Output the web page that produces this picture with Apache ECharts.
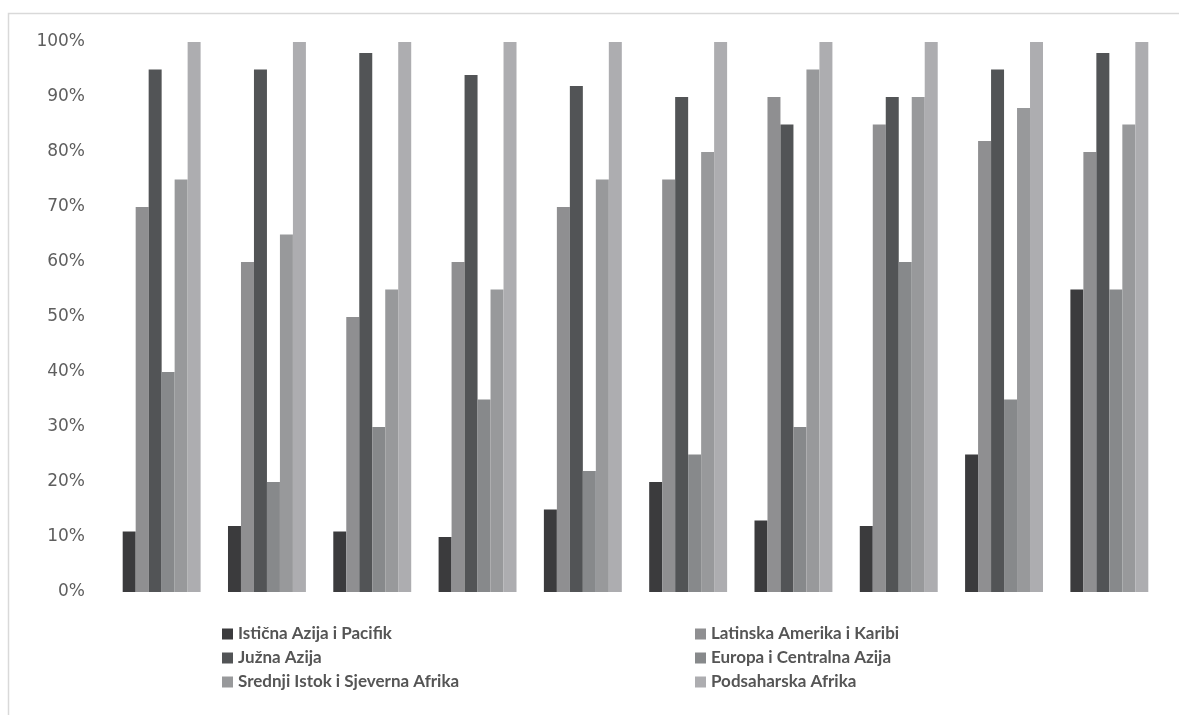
<!DOCTYPE html>
<html>
<head>
<meta charset="utf-8">
<script src="https://cdn.jsdelivr.net/npm/echarts@6/dist/echarts.min.js"></script>
<style>html,body{margin:0;padding:0;background:#fff}#c{width:1179px;height:715px}</style>
</head>
<body>
<div id="c"></div>
<script>
const categories = ['1','2','3','4','5','6','7','8','9','10'];
const seriesNames = ['Istična Azija i Pacifik','Latinska Amerika i Karibi','Južna Azija','Europa i Centralna Azija','Srednji Istok i Sjeverna Afrika','Podsaharska Afrika'];
const eastAsia   = [11, 12, 11, 10, 15, 20, 13, 12, 25, 55];
const latAm      = [70, 60, 50, 60, 70, 75, 90, 85, 82, 80];
const southAsia  = [95, 95, 98, 94, 92, 90, 85, 90, 95, 98];
const europe     = [40, 20, 30, 35, 22, 25, 30, 60, 35, 55];
const mena       = [75, 65, 55, 55, 75, 80, 95, 90, 88, 85];
const ssa        = [100,100,100,100,100,100,100,100,100,100];
const colors = ['#3b3b3d','#8f8f91','#525456','#87898b','#98999b','#adadb0'];
const values = [eastAsia, latAm, southAsia, europe, mena, ssa];

const chart = echarts.init(document.getElementById('c'));
const legendText = {fontFamily:'Lato, sans-serif', fontWeight:'bold', fontSize:17, lineHeight:18, color:'#555555'};
chart.setOption({
  animation:false,
  backgroundColor:'#fff',
  graphic:[{type:'rect', shape:{x:8.5,y:13.5,width:1200,height:720}, style:{fill:'none', stroke:'#d9d9d9', lineWidth:1.5}}],
  grid:{left:109, right:17, top:42, bottom:123},
  xAxis:{type:'category', data:categories, axisLine:{show:false}, axisTick:{show:false}, axisLabel:{show:false}},
  yAxis:{type:'value', min:0, max:100, interval:10,
    axisLine:{show:false}, axisTick:{show:false}, splitLine:{show:false},
    axisLabel:{formatter:'{value}%', margin:24, fontFamily:'"DejaVu Sans", sans-serif', fontSize:17, color:'#5e5e5e'}},
  legend:[
    {data:[seriesNames[0],seriesNames[2],seriesNames[4]], orient:'vertical', left:222, top:625, padding:0, itemWidth:11, itemHeight:11, itemGap:6, textStyle:legendText, icon:'rect'},
    {data:[seriesNames[1],seriesNames[3],seriesNames[5]], orient:'vertical', left:695, top:625, padding:0, itemWidth:11, itemHeight:11, itemGap:6, textStyle:legendText, icon:'rect'}
  ],
  series: seriesNames.map((n,i)=>({
    name:n, type:'bar', data:values[i], barGap:'0%', barCategoryGap:'26%',
    itemStyle:{color:colors[i]}
  }))
});
</script>
</body>
</html>
